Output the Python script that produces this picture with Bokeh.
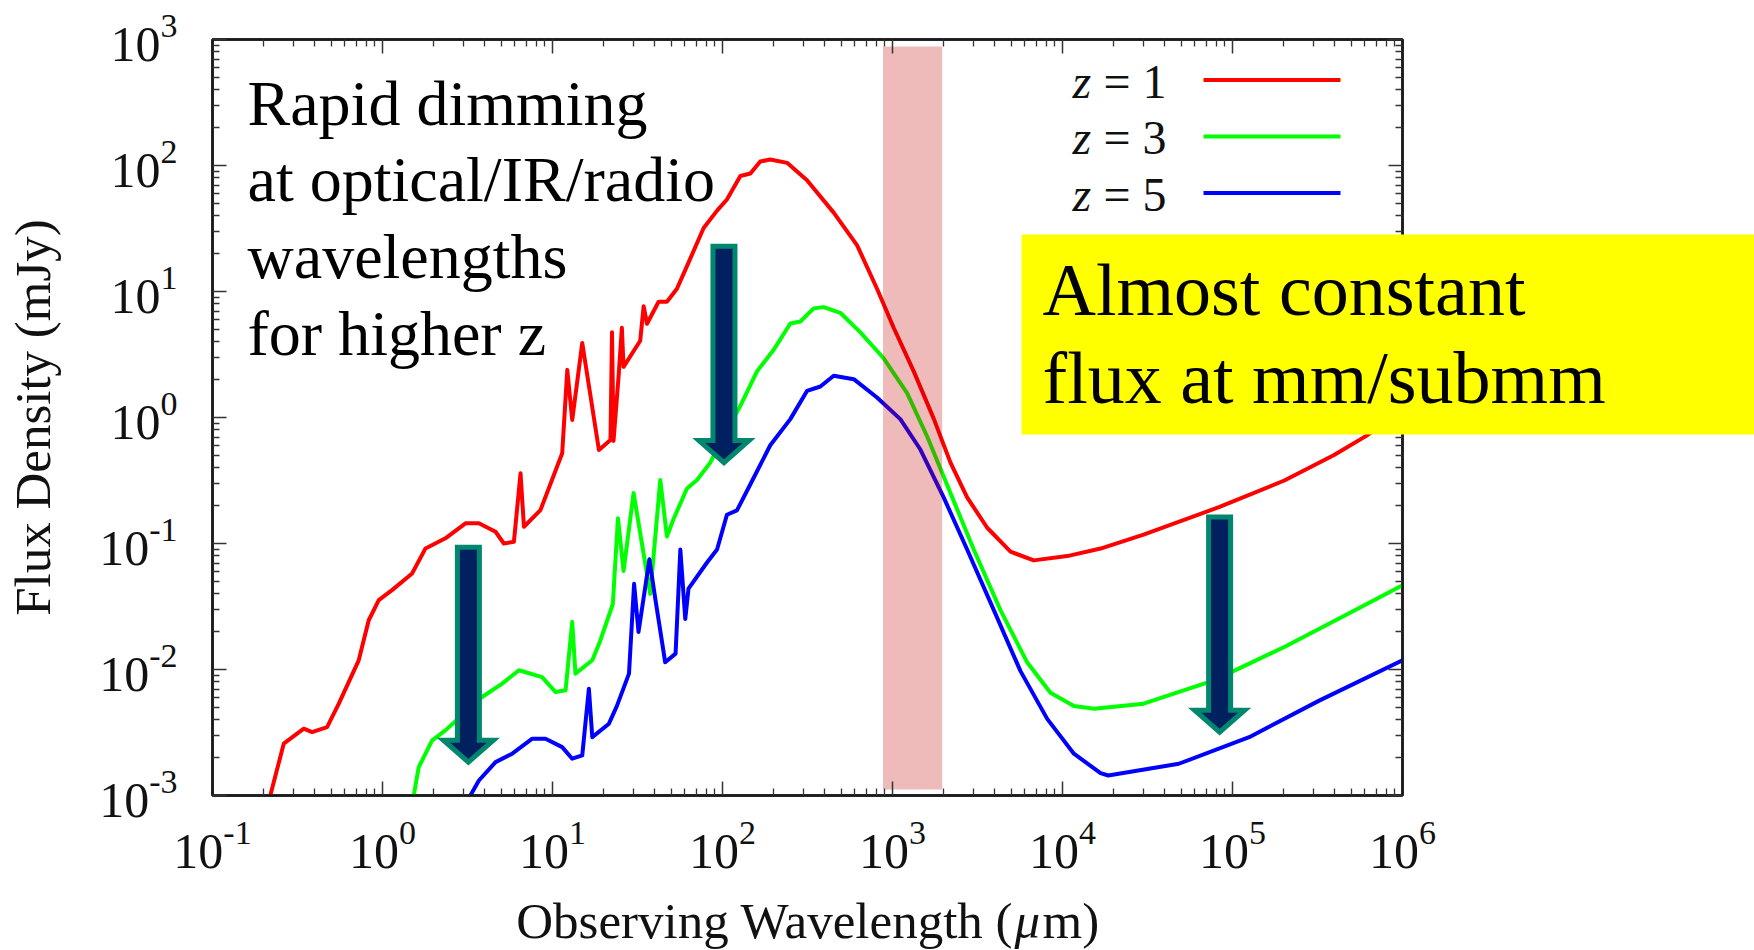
import numpy as np
from bokeh.plotting import figure
from bokeh.models import Range1d, LogAxis, FixedTicker, CustomJSTickFormatter
from bokeh.core.properties import value
from bokeh.embed import file_html
from bokeh.resources import INLINE

# ---------------------------------------------------------------------------
# Model SEDs of a dusty star-forming galaxy at three redshifts.
# Values are log10(wavelength / um) and log10(flux density / mJy).
# ---------------------------------------------------------------------------
redshifts = [1, 3, 5]
colors = ["#ff0000", "#00ff00", "#0000ff"]

log_wl_z1 = [-0.660, -0.581, -0.463, -0.414, -0.326, -0.257, -0.140, -0.081, -0.022, 0.056,
             0.174, 0.253, 0.370, 0.488, 0.567, 0.665, 0.714, 0.773, 0.812, 0.832,
             0.929, 1.057, 1.087, 1.116, 1.175, 1.273, 1.341, 1.350, 1.359, 1.389,
             1.408, 1.418, 1.516, 1.536, 1.556, 1.624, 1.673, 1.732, 1.800, 1.889,
             1.968, 2.026, 2.105, 2.164, 2.222, 2.281, 2.380, 2.497, 2.654, 2.792,
             2.909, 3.007, 3.125, 3.243, 3.341, 3.439, 3.557, 3.694, 3.831, 4.028,
             4.224, 4.477, 4.924, 5.305, 5.595, 5.782, 6.000]
log_fx_z1 = [-3.000, -2.589, -2.470, -2.497, -2.457, -2.271, -1.927, -1.609, -1.450, -1.370,
             -1.238, -1.039, -0.959, -0.840, -0.840, -0.907, -1.000, -0.986, -0.443, -0.867,
             -0.735, -0.284, 0.378, -0.019, 0.591, -0.258, -0.178, 0.676, -0.186, 0.331,
             0.712, 0.402, 0.609, 0.883, 0.744, 0.919, 0.919, 1.022, 1.229, 1.504,
             1.642, 1.730, 1.917, 1.936, 2.032, 2.048, 2.021, 1.883, 1.626, 1.366,
             1.022, 0.712, 0.366, -0.011, -0.358, -0.634, -0.875, -1.065, -1.134, -1.100,
             -1.040, -0.930, -0.710, -0.500, -0.300, -0.150, 0.050]

log_wl_z3 = [0.184, 0.213, 0.292, 0.370, 0.586, 0.704, 0.802, 0.939, 1.018, 1.077,
             1.116, 1.135, 1.234, 1.281, 1.355, 1.385, 1.418, 1.477, 1.536, 1.575,
             1.634, 1.673, 1.712, 1.791, 1.850, 1.928, 2.007, 2.105, 2.203, 2.301,
             2.399, 2.458, 2.536, 2.595, 2.693, 2.811, 2.948, 3.086, 3.204, 3.341,
             3.478, 3.635, 3.792, 3.929, 4.067, 4.187, 4.477, 4.891, 5.305, 5.720,
             6.000]
log_fx_z3 = [-3.000, -2.775, -2.563, -2.483, -2.218, -2.112, -2.006, -2.060, -2.179, -2.165,
             -1.622, -2.033, -1.927, -1.771, -1.480, -0.800, -1.219, -0.600, -1.082, -1.400,
             -0.496, -0.944, -0.806, -0.564, -0.496, -0.358, -0.151, 0.092, 0.366, 0.537,
             0.746, 0.762, 0.866, 0.876, 0.831, 0.676, 0.470, 0.194, -0.151, -0.600,
             -1.048, -1.529, -1.943, -2.185, -2.289, -2.311, -2.271, -2.086, -1.821, -1.529,
             -1.331]

log_wl_z5 = [0.517, 0.567, 0.665, 0.763, 0.881, 0.959, 1.057, 1.116, 1.175, 1.214,
             1.234, 1.332, 1.379, 1.450, 1.480, 1.506, 1.570, 1.606, 1.663, 1.724,
             1.752, 1.781, 1.800, 1.909, 1.968, 2.026, 2.085, 2.164, 2.281, 2.399,
             2.497, 2.576, 2.654, 2.772, 2.909, 3.046, 3.164, 3.301, 3.439, 3.596,
             3.753, 3.910, 4.067, 4.224, 4.269, 4.684, 5.098, 5.513, 6.000]
log_fx_z5 = [-3.000, -2.881, -2.735, -2.668, -2.549, -2.549, -2.616, -2.708, -2.682, -2.152,
             -2.537, -2.430, -2.289, -2.033, -1.320, -1.703, -1.125, -1.450, -1.943, -1.874,
             -1.048, -1.599, -1.358, -1.151, -1.048, -0.772, -0.737, -0.530, -0.220, -0.013,
             0.211, 0.246, 0.331, 0.304, 0.159, -0.013, -0.254, -0.634, -1.048, -1.529,
             -2.013, -2.392, -2.668, -2.823, -2.841, -2.748, -2.537, -2.245, -1.927]

# highlighted (sub)mm window, um
band_wl = [880.0, 1960.0]

# dimming arrows: wavelength (um), tail and tip flux density (mJy)
arrow_wl = [3.2, 102.0, 8.4e4]
arrow_top = [0.0933, 22.9, 0.162]
arrow_tip = [0.00184, 0.439, 0.00318]

# axis decades
x_exps = [-1, 0, 1, 2, 3, 4, 5, 6]
y_exps = [-3, -2, -1, 0, 1, 2, 3]

left_note = ["Rapid dimming", "at optical/IR/radio", "wavelengths", "for higher z"]
right_note = ["Almost constant", "flux at mm/submm"]

# ---------------------------------------------------------------------------
# Canvas / frame geometry (pixels)
# ---------------------------------------------------------------------------
W, H = 1754, 950
FL, FT, FW, FH = 212, 39, 1190, 756
PPDX = FW / (x_exps[-1] - x_exps[0])
PPDY = FH / (y_exps[-1] - y_exps[0])
# the rendered alphabetic baseline sits this fraction of the font size
# below the anchor, so anchors are raised by the same amount
BASE_SHIFT = 0.35


def dx(px):
    """pixel column -> wavelength"""
    return 10 ** (x_exps[0] + (px - FL) / PPDX)


def dy(py):
    """pixel row -> flux density"""
    return 10 ** (y_exps[-1] - (py - FT) / PPDY)


def by(py, size):
    """baseline row -> anchor flux density for text of the given size"""
    return dy(py - BASE_SHIFT * size)


def sx(x):
    return FL + (np.log10(x) - x_exps[0]) * PPDX


def sy(y):
    return FT + (y_exps[-1] - np.log10(y)) * PPDY


SERIF = value("Liberation Serif")
INK = "#111111"

p = figure(width=W, height=H, x_axis_type="log", y_axis_type="log",
           x_range=Range1d(10.0 ** x_exps[0], 10.0 ** x_exps[-1]),
           y_range=Range1d(10.0 ** y_exps[0], 10.0 ** y_exps[-1]),
           output_backend="svg", toolbar_location=None,
           min_border_left=FL, min_border_right=W - FL - FW,
           min_border_top=FT, min_border_bottom=H - FT - FH)
p.grid.visible = False
p.background_fill_color = "white"
p.border_fill_color = "white"
p.outline_line_color = "#1a1a1a"
p.outline_line_width = 2.5

major_x = [10.0 ** e for e in x_exps]
minor_x = [m * 10.0 ** e for e in x_exps[:-1] for m in range(2, 10)]
major_y = [10.0 ** e for e in y_exps]
minor_y = [m * 10.0 ** e for e in y_exps[:-1] for m in range(2, 10)]

p.add_layout(LogAxis(), "above")
p.add_layout(LogAxis(), "right")
blank = CustomJSTickFormatter(code="return ''")
for ax in p.xaxis:
    ax.ticker = FixedTicker(ticks=major_x, minor_ticks=minor_x)
for ax in p.yaxis:
    ax.ticker = FixedTicker(ticks=major_y, minor_ticks=minor_y)
for ax in list(p.xaxis) + list(p.yaxis):
    ax.formatter = blank
    ax.major_label_text_font_size = "1px"
    ax.axis_label = None
    ax.axis_line_color = "#1a1a1a"
    ax.axis_line_width = 2.5
    ax.major_tick_in = 14
    ax.major_tick_out = 0
    ax.minor_tick_in = 7
    ax.minor_tick_out = 0
    ax.major_tick_line_color = "#333333"
    ax.minor_tick_line_color = "#333333"
    ax.major_tick_line_width = 1.5
    ax.minor_tick_line_width = 1.3

# ---------------------------------------------------------------------------
# SED curves
# ---------------------------------------------------------------------------
curves = [(log_wl_z1, log_fx_z1), (log_wl_z3, log_fx_z3), (log_wl_z5, log_fx_z5)]
for (lw, lf), c in zip(curves, colors):
    p.line(10 ** np.array(lw), 10 ** np.array(lf), line_color=c, line_width=4,
           line_join="round")

# translucent (sub)mm window drawn over the curves
p.quad(left=[band_wl[0]], right=[band_wl[1]], bottom=[dy(FT + FH - 6)], top=[dy(FT + 7)],
       fill_color="#c00000", fill_alpha=0.27, line_color=None)

# ---------------------------------------------------------------------------
# Downward arrows
# ---------------------------------------------------------------------------
SHAFT_HALF, HEAD_HALF, HEAD_LEN = 11, 25, 22
axs, ays = [], []
for wl, top, tip in zip(arrow_wl, arrow_top, arrow_tip):
    cx, ty, py = sx(wl), sy(top), sy(tip)
    hb = py - HEAD_LEN
    pts_x = [cx - SHAFT_HALF, cx + SHAFT_HALF, cx + SHAFT_HALF, cx + HEAD_HALF, cx,
             cx - HEAD_HALF, cx - SHAFT_HALF]
    pts_y = [ty, ty, hb, hb, py, hb, hb]
    axs.append([dx(v) for v in pts_x])
    ays.append([dy(v) for v in pts_y])
p.patches(axs, ays, fill_color="#002060", line_color="#00876e", line_width=5,
          line_join="miter")

# ---------------------------------------------------------------------------
# Key (label on the left, line sample on the right)
# ---------------------------------------------------------------------------
KEY_PX = 48
key_rows = [79.5, 136.0, 192.5]
p.segment(x0=[dx(1203)] * 3, x1=[dx(1340)] * 3, y0=[dy(r) for r in key_rows],
          y1=[dy(r) for r in key_rows], line_color=colors, line_width=4)
p.text(x=[dx(1072)] * 3, y=[by(r + 18, KEY_PX) for r in key_rows], text=["z"] * 3,
       text_font=SERIF, text_font_style="italic", text_font_size="%dpx" % KEY_PX,
       text_color=INK, text_align="left", text_baseline="alphabetic")
p.text(x=[dx(1103)] * 3, y=[by(r + 18, KEY_PX) for r in key_rows],
       text=["= %d" % z for z in redshifts],
       text_font=SERIF, text_font_size="%dpx" % KEY_PX, text_color=INK,
       text_align="left", text_baseline="alphabetic")

# ---------------------------------------------------------------------------
# Notes
# ---------------------------------------------------------------------------
NOTE_L, NOTE_R = 64, 74
p.text(x=[dx(247)] * len(left_note),
       y=[by(125 + 76.7 * i, NOTE_L) for i in range(len(left_note))],
       text=left_note, text_font=SERIF, text_font_size="%dpx" % NOTE_L, text_color="black",
       text_align="left", text_baseline="alphabetic")

p.quad(left=[dx(1021)], right=[dx(W + 10)], top=[dy(234)], bottom=[dy(434)],
       fill_color="#ffff00", line_color=None, level="overlay")
p.text(x=[dx(1042)] * 2, y=[by(315, NOTE_R), by(403, NOTE_R)], text=right_note,
       text_font=SERIF, text_font_size="%dpx" % NOTE_R, text_color="black",
       text_align="left", text_baseline="alphabetic", level="overlay")

# ---------------------------------------------------------------------------
# Tick labels: "10" with a raised exponent
# ---------------------------------------------------------------------------
BASE_PX, EXP_PX = 50, 34
CHAR_EM = {"-": 0.333}


def exp_width(s):
    return sum(CHAR_EM.get(ch, 0.5) for ch in s) * EXP_PX


bx, byy, ex, ey, et = [], [], [], [], []
for e in x_exps:
    s = str(e)
    X = sx(10.0 ** e)
    left = X - (BASE_PX + exp_width(s)) / 2
    bx.append(dx(left)); byy.append(by(FT + FH + 73, BASE_PX))
    ex.append(dx(left + BASE_PX)); ey.append(by(FT + FH + 49, EXP_PX)); et.append(s)
p.text(x=bx, y=byy, text=["10"] * len(bx), text_font=SERIF, text_font_size="%dpx" % BASE_PX,
       text_color=INK, text_align="left", text_baseline="alphabetic", level="overlay")
p.text(x=ex, y=ey, text=et, text_font=SERIF, text_font_size="%dpx" % EXP_PX,
       text_color=INK, text_align="left", text_baseline="alphabetic", level="overlay")

RIGHT = 177
bx, byy, ex, ey, et = [], [], [], [], []
for e in y_exps:
    s = str(e)
    Y = sy(10.0 ** e)
    bx.append(dx(RIGHT - exp_width(s))); byy.append(by(Y + 22, BASE_PX))
    ex.append(dx(RIGHT)); ey.append(by(Y - 2, EXP_PX)); et.append(s)
p.text(x=bx, y=byy, text=["10"] * len(bx), text_font=SERIF, text_font_size="%dpx" % BASE_PX,
       text_color=INK, text_align="right", text_baseline="alphabetic", level="overlay")
p.text(x=ex, y=ey, text=et, text_font=SERIF, text_font_size="%dpx" % EXP_PX,
       text_color=INK, text_align="right", text_baseline="alphabetic", level="overlay")

# ---------------------------------------------------------------------------
# Axis titles
# ---------------------------------------------------------------------------
TITLE_PX = 51
xt_mid = 1013
xt_base = by(938, TITLE_PX)
p.text(x=[dx(xt_mid)], y=[xt_base], text=["Observing Wavelength ("], text_font=SERIF,
       text_font_size="%dpx" % TITLE_PX, text_color=INK, text_align="right",
       text_baseline="alphabetic", level="overlay")
p.text(x=[dx(xt_mid + 1)], y=[xt_base], text=["\u03bc"], text_font=SERIF,
       text_font_style="italic", text_font_size="%dpx" % TITLE_PX, text_color=INK,
       text_align="left", text_baseline="alphabetic", level="overlay")
p.text(x=[dx(xt_mid + 1 + 0.55 * TITLE_PX)], y=[xt_base], text=["m)"], text_font=SERIF,
       text_font_size="%dpx" % TITLE_PX, text_color=INK, text_align="left",
       text_baseline="alphabetic", level="overlay")

# rotated title: its baseline runs vertically, so the shift is applied along x
p.text(x=[dx(50 - BASE_SHIFT * TITLE_PX)], y=[dy(FT + FH / 2)], text=["Flux Density (mJy)"],
       angle=np.pi / 2, text_font=SERIF, text_font_size="%dpx" % TITLE_PX, text_color=INK,
       text_align="center", text_baseline="alphabetic", level="overlay")

open("out.html", "w").write(file_html(p, INLINE))
